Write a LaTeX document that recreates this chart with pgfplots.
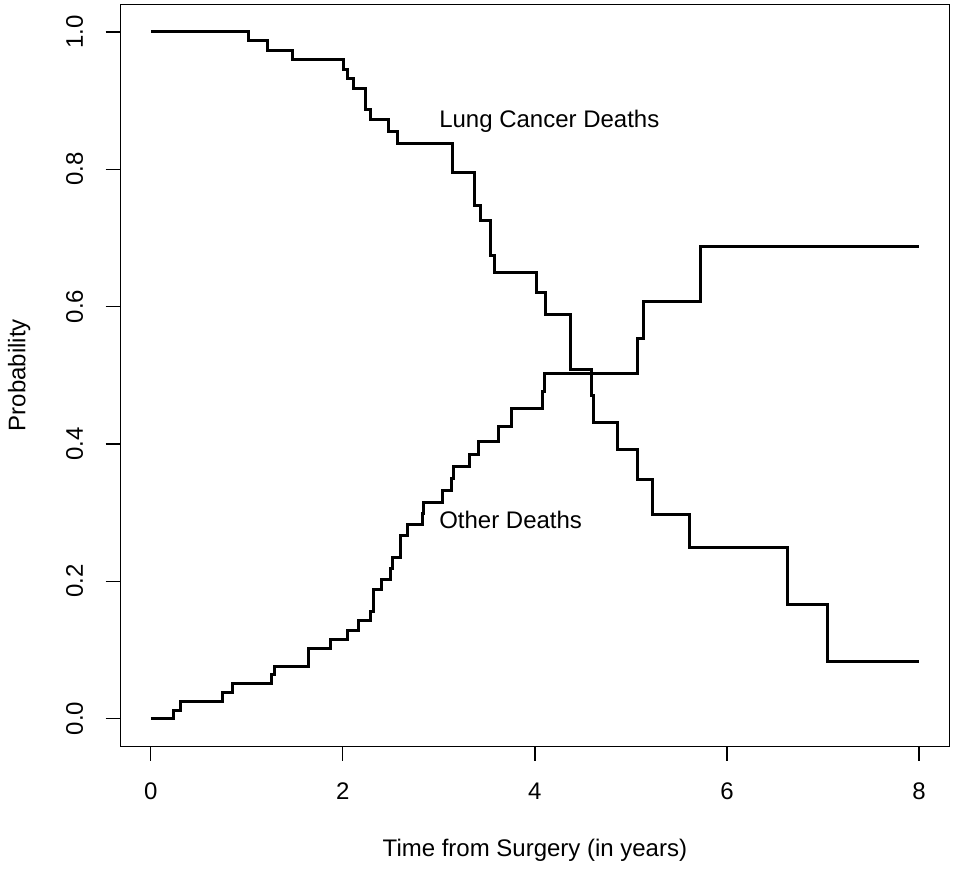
\documentclass[border=0pt]{standalone}
\usepackage{fontspec}
\setmainfont{Liberation Sans}
\usepackage{pgfplots}
\pgfplotsset{compat=1.18}

\begin{document}
\fontsize{12}{14.4}\selectfont
\begin{tikzpicture}
\begin{axis}[
  scale only axis,
  width=415pt, height=371pt,
  xmin=-0.32, xmax=8.32, ymin=-0.04, ymax=1.04,
  axis line style={line width=0.6pt},
  xtick={0,2,4,6,8},
  ytick={0,0.2,0.4,0.6,0.8,1.0},
  tick align=outside, tick pos=left,
  major tick length=7.3pt,
  every tick/.style={black, line width=0.6pt},
  xticklabel shift=7pt, yticklabel shift=7pt,
  /pgf/number format/assume math mode=true,
  yticklabel style={rotate=90, anchor=south, /pgf/number format/fixed, /pgf/number format/fixed zerofill, /pgf/number format/precision=1},
  xlabel={Time from Surgery (in years)},
  ylabel={Probability},
  xlabel style={at={(rel axis cs:0.5,0)}, anchor=center, yshift=-52pt},
  ylabel style={at={(rel axis cs:0,0.5)}, anchor=center, yshift=50.5pt},
]
% lung cancer deaths
\addplot[const plot, black, line width=1.5pt] coordinates {
  (0,1.0) (1.015,0.987) (1.22,0.973) (1.48,0.960) (2.01,0.946) (2.05,0.932)
  (2.115,0.918) (2.24,0.887) (2.29,0.872) (2.48,0.855) (2.57,0.837)
  (3.14,0.795) (3.37,0.748) (3.43,0.725) (3.54,0.675) (3.58,0.650)
  (4.02,0.620) (4.11,0.588) (4.37,0.509) (4.59,0.471) (4.61,0.431)
  (4.855,0.392) (5.07,0.348) (5.225,0.298) (5.61,0.249) (6.63,0.166)
  (7.05,0.083) (8.0,0.083)};
% other deaths
\addplot[const plot, black, line width=1.5pt] coordinates {
  (0,0) (0.24,0.012) (0.305,0.025) (0.746,0.038) (0.85,0.051) (1.255,0.064)
  (1.29,0.076) (1.64,0.102) (1.87,0.115) (2.045,0.128) (2.16,0.143)
  (2.29,0.156) (2.32,0.188) (2.40,0.202) (2.50,0.218) (2.52,0.234)
  (2.60,0.266) (2.67,0.283) (2.83,0.299) (2.84,0.315) (3.04,0.332)
  (3.13,0.349) (3.15,0.367) (3.32,0.384) (3.41,0.403) (3.62,0.426)
  (3.76,0.451) (4.08,0.476) (4.10,0.502) (5.065,0.553) (5.13,0.608)
  (5.72,0.687) (8.0,0.687)};
\node[anchor=west, inner sep=0pt] at (axis cs:3.0,0.87) {Lung Cancer Deaths};
\node[anchor=west, inner sep=0pt] at (axis cs:3.0,0.29) {Other Deaths};
\coordinate (A) at (rel axis cs:0,0);
\coordinate (B) at (rel axis cs:1,1);
\end{axis}
\path (A) ++(-60pt,-60.3pt) rectangle ([shift={(2.15pt,2.25pt)}]B);
\end{tikzpicture}
\end{document}
